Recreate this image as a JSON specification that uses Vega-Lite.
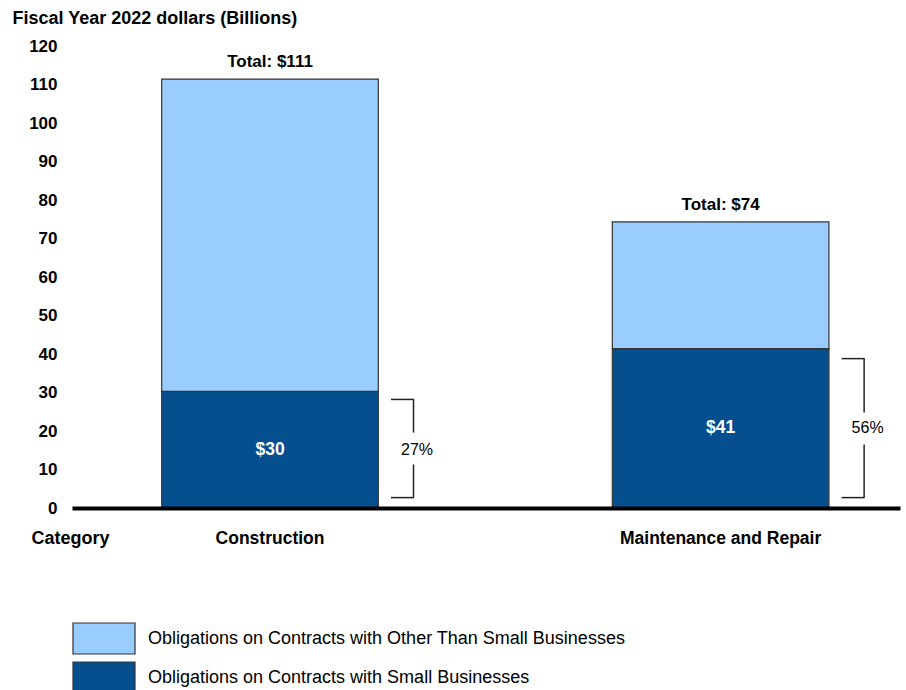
{
  "$schema": "https://vega.github.io/schema/vega-lite/v6.json",
  "width": 828,
  "height": 462,
  "autosize": {"type": "none"},
  "padding": {"left": 72, "top": 46, "right": 6, "bottom": 182},
  "background": "white",
  "config": {
    "font": "Liberation Sans",
    "view": {"stroke": null},
    "axisY": {"labelOverlap": false, "labelFontSize": 17, "labelFontWeight": "bold", "labelColor": "#000000", "labelPadding": 15, "ticks": false, "tickSize": 0, "domain": false, "grid": false,
      "titleAngle": 0, "titleAlign": "left", "titleAnchor": "start", "titleX": -60, "titleY": -23, "titleBaseline": "alphabetic", "titleFontSize": 18, "titleFontWeight": "bold", "titleColor": "#000000"}
  },
  "datasets": {
    "bars": [
      {"category": "Construction", "segment": "Obligations on Contracts with Small Businesses", "value": 30.3},
      {"category": "Construction", "segment": "Obligations on Contracts with Other Than Small Businesses", "value": 81.1},
      {"category": "Maintenance and Repair", "segment": "Obligations on Contracts with Small Businesses", "value": 41.4},
      {"category": "Maintenance and Repair", "segment": "Obligations on Contracts with Other Than Small Businesses", "value": 32.9}
    ],
    "summary": [
      {"category": "Construction", "total": 111.4, "total_label": "Total: $111", "small_label": "$30", "small_mid": 15.1, "share": "27%", "br_top": 28.2, "br_gap_top": 19.6, "br_gap_bottom": 11.3, "br_bottom": 2.7},
      {"category": "Maintenance and Repair", "total": 74.3, "total_label": "Total: $74", "small_label": "$41", "small_mid": 20.7, "share": "56%", "br_top": 38.8, "br_gap_top": 24.8, "br_gap_bottom": 16.5, "br_bottom": 2.7}
    ]
  },
  "layer": [
    {
      "data": {"name": "bars"},
      "mark": {"type": "bar", "stroke": "#333333", "strokeWidth": 1.2},
      "encoding": {
        "x": {
          "field": "category",
          "type": "nominal",
          "sort": ["Construction", "Maintenance and Repair"],
          "scale": {"type": "band", "paddingInner": 0.5193, "paddingOuter": 0.1784, "align": 0.558},
          "axis": {
            "title": "Category",
            "titleX": -2,
            "titleY": 35,
            "titleAlign": "center",
            "titleAnchor": "start",
            "titleBaseline": "alphabetic",
            "titleFontSize": 18,
            "titleFontWeight": "bold",
            "titleColor": "#000000",
            "labelAngle": 0,
            "labelFontSize": 17.5,
            "labelFontWeight": "bold",
            "labelColor": "#000000",
            "labelBaseline": "alphabetic",
            "labelPadding": 35,
            "labelLimit": 0,
            "ticks": false,
            "tickSize": 0,
            "domain": true,
            "domainColor": "#000000",
            "domainWidth": 4,
            "grid": false,
            "zindex": 1
          }
        },
        "y": {
          "field": "value",
          "type": "quantitative",
          "stack": "zero",
          "scale": {"domain": [0, 120], "nice": false},
          "axis": {"title": "Fiscal Year 2022 dollars (Billions)", "values": [0, 10, 20, 30, 40, 50, 60, 70, 80, 90, 100, 110, 120], "labelOverlap": false}
        },
        "color": {
          "field": "segment",
          "type": "nominal",
          "scale": {
            "domain": ["Obligations on Contracts with Other Than Small Businesses", "Obligations on Contracts with Small Businesses"],
            "range": ["#99ccff", "#054f8f"]
          },
          "legend": {
            "title": null,
            "orient": "none",
            "legendX": 0,
            "legendY": 576,
            "padding": 0,
            "symbolType": "M-1,-1L3,-1L3,1L-1,1Z",
            "symbolSize": 961,
            "symbolStrokeColor": "#333333",
            "symbolStrokeWidth": 1.2,
            "symbolOpacity": 1,
            "labelFontSize": 18,
            "labelColor": "#000000",
            "labelOffset": 43,
            "labelLimit": 1000,
            "rowPadding": 2
          }
        },
        "order": {"field": "segment", "sort": "descending"}
      }
    },
    {
      "data": {"name": "summary"},
      "mark": {"type": "text", "fontSize": 17, "fontWeight": "bold", "color": "#000000", "baseline": "alphabetic", "dy": -12},
      "encoding": {
        "x": {"field": "category", "type": "nominal", "sort": ["Construction", "Maintenance and Repair"]},
        "y": {"field": "total", "type": "quantitative", "axis": {"title": "Fiscal Year 2022 dollars (Billions)", "values": [0, 10, 20, 30, 40, 50, 60, 70, 80, 90, 100, 110, 120], "labelOverlap": false}},
        "text": {"field": "total_label"}
      }
    },
    {
      "data": {"name": "summary"},
      "mark": {"type": "text", "fontSize": 17.5, "fontWeight": "bold", "color": "#ffffff", "baseline": "middle"},
      "encoding": {
        "x": {"field": "category", "type": "nominal", "sort": ["Construction", "Maintenance and Repair"]},
        "y": {"field": "small_mid", "type": "quantitative", "axis": {"title": "Fiscal Year 2022 dollars (Billions)", "values": [0, 10, 20, 30, 40, 50, 60, 70, 80, 90, 100, 110, 120], "labelOverlap": false}},
        "text": {"field": "small_label"}
      }
    },
    {
      "data": {"name": "summary"},
      "mark": {"type": "text", "fontSize": 16, "color": "#000000", "baseline": "middle", "xOffset": 147},
      "encoding": {
        "x": {"field": "category", "type": "nominal", "sort": ["Construction", "Maintenance and Repair"]},
        "y": {"field": "small_mid", "type": "quantitative", "axis": {"title": "Fiscal Year 2022 dollars (Billions)", "values": [0, 10, 20, 30, 40, 50, 60, 70, 80, 90, 100, 110, 120], "labelOverlap": false}},
        "text": {"field": "share"}
      }
    },
    {
      "data": {"name": "summary"},
      "mark": {"type": "tick", "orient": "horizontal", "size": 23, "thickness": 1.5, "color": "#222222", "opacity": 1, "xOffset": 132.5},
      "encoding": {
        "x": {"field": "category", "type": "nominal", "sort": ["Construction", "Maintenance and Repair"]},
        "y": {"field": "br_top", "type": "quantitative", "axis": {"title": "Fiscal Year 2022 dollars (Billions)", "values": [0, 10, 20, 30, 40, 50, 60, 70, 80, 90, 100, 110, 120], "labelOverlap": false}}
      }
    },
    {
      "data": {"name": "summary"},
      "mark": {"type": "tick", "orient": "horizontal", "size": 23, "thickness": 1.5, "color": "#222222", "opacity": 1, "xOffset": 132.5},
      "encoding": {
        "x": {"field": "category", "type": "nominal", "sort": ["Construction", "Maintenance and Repair"]},
        "y": {"field": "br_bottom", "type": "quantitative", "axis": {"title": "Fiscal Year 2022 dollars (Billions)", "values": [0, 10, 20, 30, 40, 50, 60, 70, 80, 90, 100, 110, 120], "labelOverlap": false}}
      }
    },
    {
      "data": {"name": "summary"},
      "mark": {"type": "rule", "strokeWidth": 1.5, "color": "#222222", "xOffset": 143.5},
      "encoding": {
        "x": {"field": "category", "type": "nominal", "sort": ["Construction", "Maintenance and Repair"]},
        "y": {"field": "br_top", "type": "quantitative", "axis": {"title": "Fiscal Year 2022 dollars (Billions)", "values": [0, 10, 20, 30, 40, 50, 60, 70, 80, 90, 100, 110, 120], "labelOverlap": false}},
        "y2": {"field": "br_gap_top"}
      }
    },
    {
      "data": {"name": "summary"},
      "mark": {"type": "rule", "strokeWidth": 1.5, "color": "#222222", "xOffset": 143.5},
      "encoding": {
        "x": {"field": "category", "type": "nominal", "sort": ["Construction", "Maintenance and Repair"]},
        "y": {"field": "br_gap_bottom", "type": "quantitative", "axis": {"title": "Fiscal Year 2022 dollars (Billions)", "values": [0, 10, 20, 30, 40, 50, 60, 70, 80, 90, 100, 110, 120], "labelOverlap": false}},
        "y2": {"field": "br_bottom"}
      }
    }
  ]
}
